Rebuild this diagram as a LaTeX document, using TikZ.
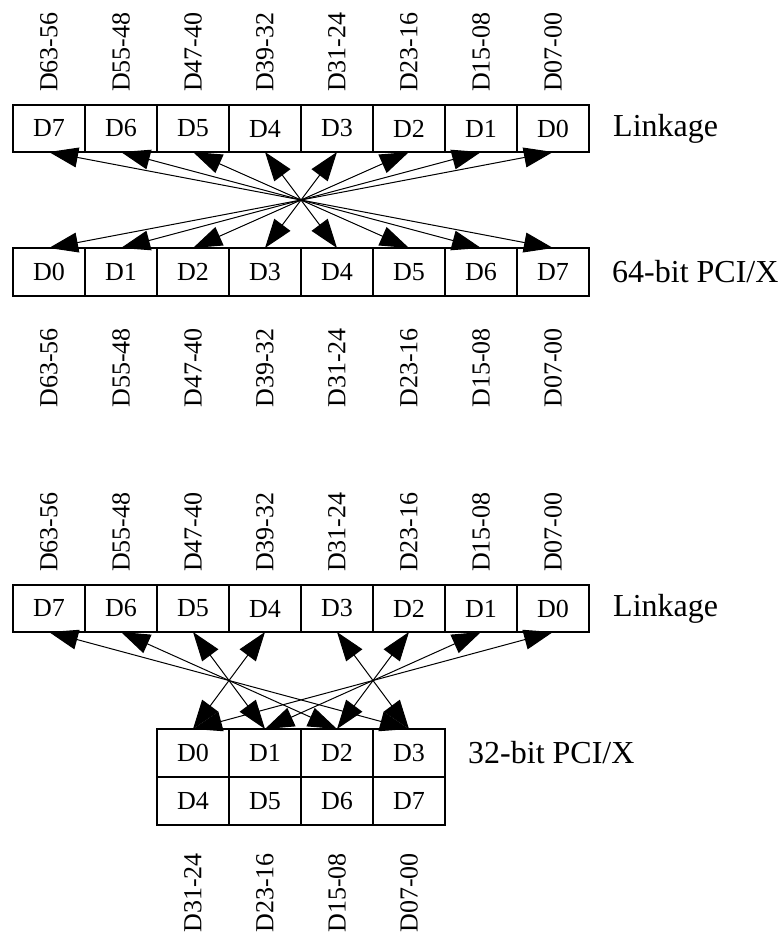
\documentclass[tikz,border=0pt]{standalone}
\usepackage{fontspec}
\setmainfont{Liberation Serif}
\usetikzlibrary{arrows.meta,positioning}
\tikzset{
    cell/.style={rectangle, draw, line width=2.4pt, minimum width=72pt, minimum height=47pt, outer sep=0pt, inner sep=0pt, font=\fontsize{26}{30}\selectfont},
    bits/.style={rotate=90, inner sep=0pt, font=\fontsize{26}{30}\selectfont},
    side/.style={inner sep=0pt, font=\fontsize{32}{36}\selectfont},
    link/.style={{Triangle[length=29pt, width=20pt]}-{Triangle[length=29pt, width=20pt]}, line width=1pt},
}

\begin{document}
\begin{tikzpicture}[x=1pt, y=-1pt]
    \useasboundingbox (0,0) rectangle (781,935);

    % 64-bit: linkage row over PCI/X row
    \node[cell] (la7) at (49,128.5) {D7};
    \foreach \k [remember=\k as \p (initially 7)] in {6,...,0}
        \node[cell, right=0pt of la\p] (la\k) {D\k};
    \node[cell, minimum height=48pt] (pa0) at (49,272) {D0};
    \foreach \k [remember=\k as \p (initially 0)] in {1,...,7}
        \node[cell, minimum height=48pt, right=0pt of pa\p] (pa\k) {D\k};
    \node[side, right=24pt of la0] (lname) {Linkage};
    \node[side, right=23pt of pa7] (pname) {64-bit PCI/X};

    \foreach \r [count=\i from 0] in {63-56,55-48,47-40,39-32,31-24,23-16,15-08,07-00} {
        \pgfmathtruncatemacro\k{7-\i}
        \node[bits, anchor=west] (ta\i) at ([yshift=13pt]la\k.north) {D\r};
        \node[bits, anchor=east] (tp\i) at ([yshift=-32pt]pa\i.south) {D\r};
    }
    \foreach \k in {0,...,7}
        \draw[link] (la\k.south) -- (pa\k.north);

    % 32-bit: linkage row over two-row PCI/X
    \node[cell] (lb7) at (49,608.5) {D7};
    \foreach \k [remember=\k as \p (initially 7)] in {6,...,0}
        \node[cell, right=0pt of lb\p] (lb\k) {D\k};
    \node[cell, minimum height=48pt] (qb0) at (193,753) {D0};
    \foreach \k [remember=\k as \p (initially 0)] in {1,...,3}
        \node[cell, minimum height=48pt, right=0pt of qb\p] (qb\k) {D\k};
    \node[cell, minimum height=48pt, below=0pt of qb0] (qb4) {D4};
    \foreach \k [remember=\k as \p (initially 4)] in {5,...,7}
        \node[cell, minimum height=48pt, right=0pt of qb\p] (qb\k) {D\k};
    \node[side, right=24pt of lb0] (lname2) {Linkage};
    \node[side, right=23pt of qb3] (qname) {32-bit PCI/X};

    \foreach \r [count=\i from 0] in {63-56,55-48,47-40,39-32,31-24,23-16,15-08,07-00} {
        \pgfmathtruncatemacro\k{7-\i}
        \node[bits, anchor=west] (tb\i) at ([yshift=13pt]lb\k.north) {D\r};
    }
    \foreach \r [count=\i from 4] in {31-24,23-16,15-08,07-00}
        \node[bits, anchor=east] (tq\i) at ([yshift=-28pt]qb\i.south) {D\r};
    \foreach \k in {0,...,7} {
        \pgfmathtruncatemacro\m{mod(\k,4)}
        \draw[link] (lb\k.south) -- (qb\m.north);
    }
\end{tikzpicture}
\end{document}
